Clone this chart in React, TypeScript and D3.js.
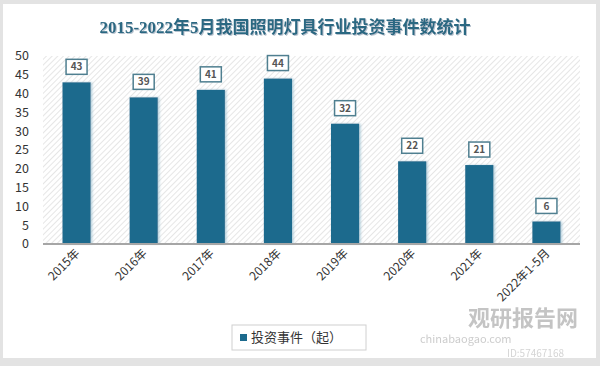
import React from "react";
import * as d3 from "d3";

const categories = ["2015年", "2016年", "2017年", "2018年", "2019年", "2020年", "2021年", "2022年1-5月"];
const values = [43, 39, 41, 44, 32, 22, 21, 6];
const yTicks = [0, 5, 10, 15, 20, 25, 30, 35, 40, 45, 50];
const title = "2015-2022年5月我国照明灯具行业投资事件数统计";
const seriesName = "投资事件（起）";

const W = 600;
const H = 366;
const M = { left: 43, right: 20, top: 56, bottom: 122 };
const BAR = "#1c6a8d";

export default function App() {
  const x = d3
    .scaleBand<string>()
    .domain(categories)
    .range([M.left, W - M.right])
    .paddingInner(0.58)
    .paddingOuter(0.29);
  const y = d3.scaleLinear().domain([0, 50]).range([H - M.bottom, M.top]);
  const bw = x.bandwidth();
  const y0 = y(0);

  return (
    <svg
      width={W}
      height={H}
      style={{ position: "absolute", left: 0, top: 0, display: "block" }}
      fontFamily="'Noto Sans CJK SC', 'Noto Sans', sans-serif"
    >
      <defs>
        <pattern id="hatch" width="4" height="4" patternUnits="userSpaceOnUse" patternTransform="rotate(45)">
          <rect width="4" height="4" fill="#ffffff" />
          <line x1="0" y1="0" x2="0" y2="4" stroke="#d9d9d9" strokeWidth="1.3" />
        </pattern>
        <filter id="glow" x="-30%" y="-10%" width="160%" height="120%">
          <feDropShadow dx="1.5" dy="0" stdDeviation="1.2" floodColor="#9fc3d3" floodOpacity="0.8" />
        </filter>
        <filter id="tshadow" x="-5%" y="-20%" width="110%" height="140%">
          <feDropShadow dx="1" dy="1" stdDeviation="0.6" floodColor="#9ab" floodOpacity="0.7" />
        </filter>
      </defs>
      {/* outer frame */}
      <rect x={0} y={0} width={W} height={H} fill="#e3e3e3" />
      <rect x={3} y={4} width={W - 7} height={354} fill="#ffffff" />

      {/* title */}
      <text
        x={285}
        y={33}
        textAnchor="middle"
        fontSize={17}
        fontWeight="bold"
        fill="#2a6882"
        fontFamily="'Liberation Serif', 'Noto Sans CJK SC', serif"
        filter="url(#tshadow)"
      >
        {title}
      </text>

      {/* plot background */}
      <rect x={M.left} y={M.top} width={W - M.left - M.right} height={y0 - M.top} fill="url(#hatch)" />

      {/* y axis labels */}
      {yTicks.map((t) => (
        <text key={t} x={29} y={y(t)} dy="0.35em" textAnchor="end" fontSize={12.5} fill="#333">
          {t}
        </text>
      ))}

      {/* bars */}
      {categories.map((c, i) => (
        <rect
          key={c}
          x={x(c)}
          y={y(values[i])}
          width={bw}
          height={y0 - y(values[i])}
          fill={BAR}
          filter="url(#glow)"
        />
      ))}

      {/* axis line */}
      <line x1={M.left} x2={W - M.right} y1={y0} y2={y0} stroke="#a6a6a6" strokeWidth={2} />

      {/* data labels */}
      {categories.map((c, i) => {
        const cx = (x(c) as number) + bw / 2;
        const top = y(values[i]) - 8;
        const bwid = 21;
        const bh = 15;
        return (
          <g key={c}>
            <rect
              x={cx - bwid / 2}
              y={top - bh}
              width={bwid}
              height={bh}
              fill="#ffffff"
              stroke="#4f7f90"
              strokeWidth={1.5}
            />
            <text x={cx} y={top - bh / 2} dy="0.36em" textAnchor="middle" fontSize={10} fontWeight="bold" fill="#555">
              {values[i]}
            </text>
          </g>
        );
      })}

      {/* watermark */}
      <g opacity={0.5}>
        <text x={468} y={326} fontSize={22} fontWeight="bold" fill="#8a8a8a">
          观研报告网
        </text>
        <text x={420} y={343} fontSize={11} fill="#999">
          chinabaogao.com
        </text>
        <text x={507} y={357} fontSize={10} fill="#aaa">
          ID:57467168
        </text>
      </g>

      {/* x labels */}
      {categories.map((c) => {
        const cx = (x(c) as number) + bw / 2 + 4;
        const ty = y0 + 10;
        return (
          <text
            key={c}
            x={cx}
            y={ty}
            textAnchor="end"
            fontSize={12}
            fill="#333"
            transform={`rotate(-45, ${cx}, ${ty})`}
          >
            {c}
          </text>
        );
      })}

      {/* legend */}
      <rect x={232} y={325} width={134} height={25} fill="#ffffff" stroke="#d0d0d0" strokeWidth={1} />
      <rect x={240} y={334} width={7} height={7} fill={BAR} />
      <text x={251} y={337.5} dy="0.35em" fontSize={13} fill="#333">
        {seriesName}
      </text>
    </svg>
  );
}
